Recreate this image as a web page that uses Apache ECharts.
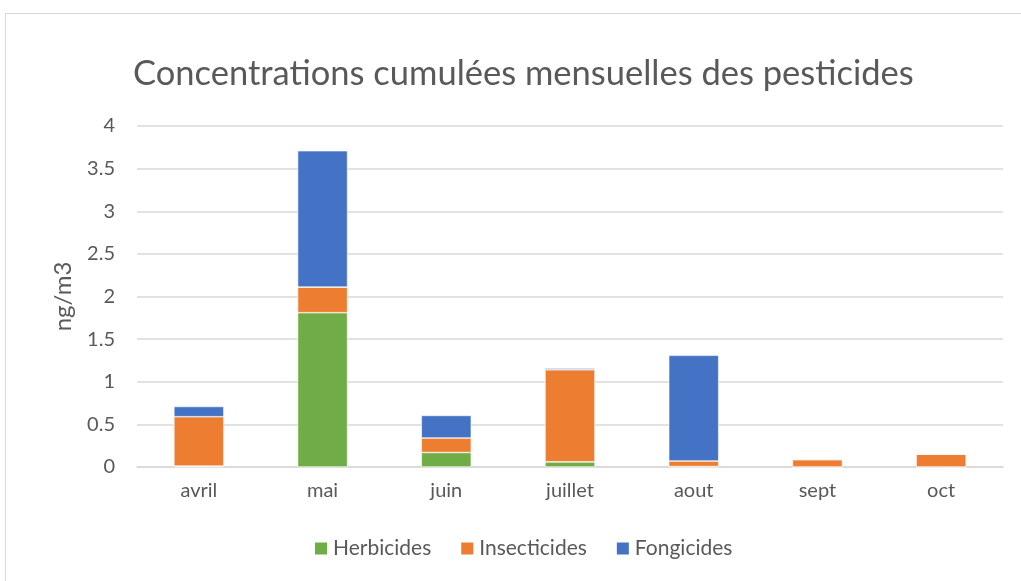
<!DOCTYPE html>
<html>
<head>
<meta charset="utf-8">
<script src="https://cdn.jsdelivr.net/npm/echarts@6/dist/echarts.min.js"></script>
<style>
  html, body { margin: 0; padding: 0; background: #fff; }
  #frame { position: absolute; left: 5px; top: 13px; width: 1030px; height: 600px; border: 1px solid #d9d9d9; box-sizing: border-box; }
  #chart { position: absolute; left: 0; top: 0; width: 1021px; height: 581px; }
</style>
</head>
<body>
<div id="frame"></div>
<div id="chart"></div>
<script>
  // months and cumulated concentrations (ng/m3)
  const months = ['avril', 'mai', 'juin', 'juillet', 'aout', 'sept', 'oct']
  const herbicides = [0.01, 1.81, 0.17, 0.06, 0.005, 0, 0]
  const insecticides = [0.58, 0.30, 0.17, 1.08, 0.065, 0.085, 0.15]
  const fongicides = [0.12, 1.60, 0.265, 0.02, 1.24, 0.01, 0]

  const txt = '#595959'
  const font = 'Lato, "Open Sans", sans-serif'

  function bar(name, data, color) {
    return {
      name: name,
      type: 'bar',
      stack: 'total',
      barWidth: 50,
      data: data,
      itemStyle: { color: color, borderColor: '#fff', borderWidth: 0.6 }
    }
  }

  const myChart = echarts.init(document.getElementById('chart'))
  myChart.setOption({
    animation: false,
    title: {
      text: 'Concentrations cumulées mensuelles des pesticides',
      left: 128,
      top: 51,
      textStyle: { color: txt, fontSize: 34.5, fontWeight: 'normal', fontFamily: font }
    },
    legend: {
      bottom: 17,
      left: 308,
      itemWidth: 14,
      itemHeight: 14,
      itemGap: 28,
      icon: 'rect',
      textStyle: { color: txt, fontSize: 21, fontFamily: font }
    },
    grid: { left: 137, right: 18, top: 126, bottom: 114 },
    xAxis: {
      type: 'category',
      data: months,
      axisLine: { lineStyle: { color: '#d9d9d9', width: 1.5 } },
      axisTick: { show: false },
      axisLabel: { color: txt, fontSize: 20, fontFamily: font, margin: 14 }
    },
    yAxis: {
      type: 'value',
      min: 0,
      max: 4,
      interval: 0.5,
      name: 'ng/m3',
      nameLocation: 'middle',
      nameGap: 62,
      nameTextStyle: { color: txt, fontSize: 24, fontFamily: font },
      axisLine: { show: false },
      axisTick: { show: false },
      axisLabel: { color: txt, fontSize: 20, fontFamily: font, margin: 22 },
      splitLine: { lineStyle: { color: '#d9d9d9', width: 1.5 } }
    },
    series: [
      bar('Herbicides', herbicides, '#70ad47'),
      bar('Insecticides', insecticides, '#ed7d31'),
      bar('Fongicides', fongicides, '#4472c4')
    ]
  })
</script>
</body>
</html>
